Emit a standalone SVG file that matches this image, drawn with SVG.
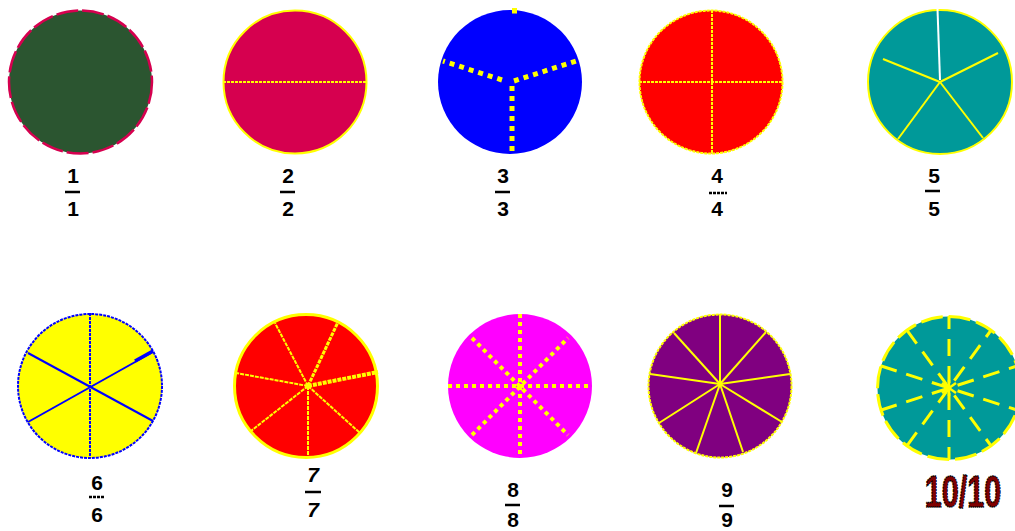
<svg xmlns="http://www.w3.org/2000/svg" width="1015" height="531" viewBox="0 0 1015 531">
<style>
.num{font-family:"Liberation Sans",Arial,sans-serif;font-weight:bold;font-size:21px;fill:#000;text-anchor:middle}
.bar{stroke:#000;stroke-width:2.5}
.dbar{stroke:#000;stroke-width:2.5;stroke-dasharray:3 1}
.ythin{stroke:#ffff00;stroke-width:2;fill:none}
</style>
<rect width="1015" height="531" fill="#fff"/>
<g id="n1">
<circle cx="80.5" cy="82" r="71.5" fill="#2b5530" stroke="#d6004f" stroke-width="2.5" stroke-dasharray="22 4"/>
<text class="num" x="73" y="183">1</text><line class="bar" x1="65" y1="192" x2="80" y2="192"/><text class="num" x="73" y="216">1</text>
</g>
<g id="n2">
<circle cx="295" cy="82" r="71.5" fill="#d6004f" stroke="#ffff00" stroke-width="2"/>
<line class="ythin" x1="223" y1="82" x2="367" y2="82" stroke-dasharray="3 1"/>
<text class="num" x="288" y="183">2</text><line class="bar" x1="280" y1="192" x2="295" y2="192"/><text class="num" x="288" y="216">2</text>
</g>
<g id="n3">
<circle cx="510" cy="82" r="72" fill="#0000ff"/>
<g stroke="#ffff00" stroke-width="5" stroke-dasharray="5 5" fill="none">
<line x1="512" y1="86" x2="512" y2="154"/>
<line x1="502" y1="80" x2="443" y2="61"/>
<line x1="514" y1="81" x2="579" y2="60"/>
</g>
<rect x="512" y="8" width="5" height="5.5" fill="#ffff00"/>
<text class="num" x="503" y="183">3</text><line class="bar" x1="495" y1="192" x2="510" y2="192"/><text class="num" x="503" y="216">3</text>
</g>
<g id="n4">
<circle cx="711" cy="82" r="71.5" fill="#ff0000" stroke="#ffff00" stroke-width="2" stroke-dasharray="3 1"/>
<line class="ythin" x1="712" y1="10" x2="712" y2="154" stroke-dasharray="3 1"/>
<line class="ythin" x1="639" y1="82" x2="783" y2="82" stroke-dasharray="3 1"/>
<text class="num" x="717" y="183">4</text><line class="dbar" x1="709" y1="193" x2="727" y2="193"/><text class="num" x="717" y="216">4</text>
</g>
<g id="n5">
<circle cx="940" cy="82" r="72" fill="#009999" stroke="#ffff00" stroke-width="2"/>
<g class="ythin">
<line x1="940" y1="82" x2="998" y2="53"/>
<line x1="940" y1="82" x2="983" y2="138"/>
<line x1="940" y1="82" x2="898" y2="139"/>
<line x1="940" y1="82" x2="883" y2="59"/>
</g>
<line x1="940" y1="80" x2="937.5" y2="9" stroke="#ffffff" stroke-width="2"/>
<text class="num" x="934" y="183">5</text><line class="bar" x1="925" y1="191" x2="940" y2="191"/><text class="num" x="934" y="216">5</text>
</g>
<g id="n6">
<circle cx="90" cy="386" r="72" fill="#ffff00" stroke="#0000ff" stroke-width="2" stroke-dasharray="3 1"/>
<g stroke="#0000ff" stroke-width="2" fill="none">
<line x1="90" y1="313" x2="90" y2="458" stroke-dasharray="3 1"/>
<line x1="28" y1="353" x2="153" y2="421"/>
<line x1="28" y1="422" x2="153" y2="352"/>
<line x1="135" y1="361" x2="153" y2="351" stroke-width="3.5"/>
</g>
<text class="num" x="97" y="490">6</text><line class="dbar" x1="89" y1="497" x2="105" y2="497"/><text class="num" x="97" y="522">6</text>
</g>
<g id="n7">
<circle cx="306" cy="386" r="71.5" fill="#ff0000" stroke="#ffff00" stroke-width="3"/>
<g class="ythin" stroke-dasharray="4 1">
<line x1="308" y1="386" x2="308" y2="458"/>
<line x1="308" y1="386" x2="251" y2="431"/>
<line x1="308" y1="386" x2="236" y2="373"/>
<line x1="308" y1="386" x2="275" y2="323"/>
<line x1="308" y1="386" x2="338" y2="322" stroke-width="3"/>
<line x1="308" y1="386" x2="378" y2="372" stroke-width="4"/>
<line x1="308" y1="386" x2="360" y2="433"/>
</g>
<circle cx="308" cy="386" r="3" fill="#ffff00"/>
<text class="num" x="313" y="482" font-style="italic">7</text><line class="bar" x1="305" y1="492" x2="321" y2="492"/><text class="num" x="313" y="517" font-style="italic">7</text>
</g>
<g id="n8">
<circle cx="520" cy="386" r="72" fill="#ff00ff"/>
<g stroke="#ffff00" stroke-width="4" stroke-dasharray="4 4" fill="none">
<line x1="520" y1="314" x2="520" y2="458"/>
<line x1="448" y1="386" x2="592" y2="386"/>
<line x1="472" y1="338" x2="568" y2="435"/>
<line x1="472" y1="435" x2="568" y2="338"/>
</g>
<text class="num" x="513" y="497">8</text><line class="bar" x1="505" y1="505" x2="520" y2="505"/><text class="num" x="513" y="527">8</text>
</g>
<g id="n9">
<circle cx="720" cy="386" r="71.5" fill="#800080" stroke="#ffff00" stroke-width="2" stroke-dasharray="3 1"/>
<g class="ythin">
<line x1="720" y1="384" x2="720" y2="314"/>
<line x1="720" y1="384" x2="766" y2="332"/>
<line x1="720" y1="384" x2="790" y2="374"/>
<line x1="720" y1="384" x2="782" y2="422"/>
<line x1="720" y1="384" x2="743" y2="452"/>
<line x1="720" y1="384" x2="696" y2="453"/>
<line x1="720" y1="384" x2="659" y2="423"/>
<line x1="720" y1="384" x2="650" y2="374"/>
<line x1="720" y1="384" x2="674" y2="333"/>
</g>
<circle cx="720" cy="384" r="2.5" fill="#ffff00"/>
<text class="num" x="727" y="497">9</text><line class="bar" x1="719" y1="506" x2="734" y2="506"/><text class="num" x="727" y="527">9</text>
</g>
<g id="n10">
<circle cx="949" cy="388" r="71.5" fill="#009999" stroke="#ffff00" stroke-width="3" stroke-dasharray="22 6"/>
<g stroke="#ffff00" stroke-width="3" stroke-dasharray="17 10" fill="none">
<line x1="949" y1="316" x2="949" y2="460" stroke-dashoffset="4"/>
<line x1="880.5" y1="365.8" x2="1017.5" y2="410.2"/>
<line x1="880.5" y1="410.2" x2="1017.5" y2="365.8"/>
<line x1="906.7" y1="329.8" x2="991.3" y2="446.2"/>
<line x1="906.7" y1="446.2" x2="991.3" y2="329.8"/>
</g>
<g stroke="#ffff00" stroke-width="2.5">
<line x1="949" y1="380" x2="949" y2="396"/>
<line x1="942" y1="383" x2="956" y2="393"/>
<line x1="942" y1="393" x2="956" y2="383"/>
</g>
<text transform="translate(963,507) scale(0.68,1)" x="0" y="0" font-family="'Liberation Sans',Arial,sans-serif" font-weight="bold" font-size="45" fill="#800000" stroke="#000" stroke-width="1.5" stroke-dasharray="2 1" text-anchor="middle">10/10</text>
</g>
</svg>
